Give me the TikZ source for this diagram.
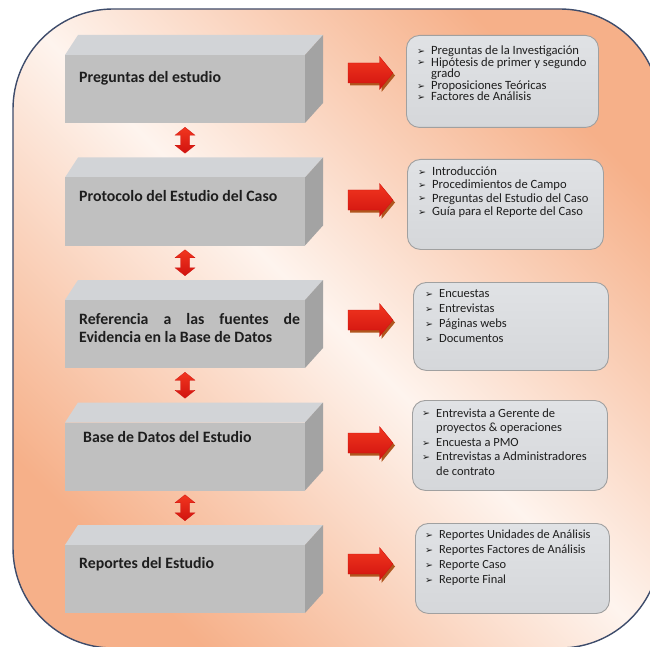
\documentclass[tikz,border=0pt]{standalone}
\usepackage{fontspec}
\setmainfont{Carlito}
\newfontfamily\dingfont{DejaVu Sans}
\usetikzlibrary{calc}

\definecolor{bgorange}{HTML}{F6B089}
\definecolor{bgpeach}{HTML}{FAD3BD}
\definecolor{bglight}{HTML}{FEF4EE}
\definecolor{framecol}{HTML}{3E4C6B}
\definecolor{facefront}{HTML}{C0C0C0}
\definecolor{facetop}{HTML}{D2D4D7}
\definecolor{faceside}{HTML}{A3A3A3}
\definecolor{notefill}{HTML}{D5D7DA}
\definecolor{notetop}{HTML}{E0E2E5}
\definecolor{noteline}{HTML}{A0A0A0}
\definecolor{arrowhi}{HTML}{F2361F}
\definecolor{arrowlo}{HTML}{D0130F}
\definecolor{arrowshadow}{HTML}{B0561E}
\definecolor{inkcol}{HTML}{1E1E1E}

% diagonal backdrop: orange towards two corners, pale along the other diagonal
\pgfdeclareverticalshading{backdrop}{100bp}{color(0bp)=(bgorange); color(25bp)=(bgorange);
  color(38bp)=(bgpeach); color(50bp)=(bglight); color(62bp)=(bgpeach);
  color(75bp)=(bgorange); color(100bp)=(bgorange)}

\tikzset{
  slabfront/.style={fill=facefront, minimum width=240pt, minimum height=68pt,
    inner sep=0pt, outer sep=0pt},
  slabtext/.style={font=\fontsize{15.8}{18.5}\selectfont\bfseries, text=inkcol, inner sep=0pt},
  notebox/.style={rounded corners=13pt, draw=noteline, line width=0.9pt,
    top color=notetop, bottom color=notefill, inner sep=0pt},
  notetext/.style={text=inkcol, inner sep=0pt, anchor=base west},
  arrowbody/.style={top color=arrowhi, bottom color=arrowlo, draw=arrowlo, line width=0.3pt},
  arrowshade/.style={fill=arrowshadow},
}

% a grey block drawn as a box with lid and right side; #1 name, #2 y of the lid's back edge
\newcommand\slab[2]{%
  \fill[facetop] (65,#2+20) -- (78,#2) -- (323,#2) -- (305,#2+20) -- cycle;
  \fill[faceside] (305,#2+20) -- (323,#2) -- (323,#2+68) -- (305,#2+88) -- cycle;
  \node[slabfront, anchor=north west] (#1) at (65,#2+20) {};
  \coordinate (#1lid) at (185,#2);
}
% block arrow pointing right, centred on coordinate #1
\newcommand\rightblock[1]{%
  \begin{scope}[shift={(#1)}]
    \fill[arrowshade] (-20.5,-7.5) -- (11,-7.5) -- (11,-14) -- (24.5,2.5) -- (11,19) -- (11,12.5) -- (-20.5,12.5) -- cycle;
    \path[arrowbody] (-22.5,-10) -- (9,-10) -- (9,-16.5) -- (22.5,0) -- (9,16.5) -- (9,10) -- (-22.5,10) -- cycle;
  \end{scope}}
% vertical double block arrow centred on coordinate #1
\newcommand\updownblock[1]{%
  \begin{scope}[shift={(#1)}]
    \path[arrowbody] (0,-13) -- (10,-5) -- (4.5,-5) -- (4.5,5) -- (10,5) -- (0,13)
      -- (-10,5) -- (-4.5,5) -- (-4.5,-5) -- (-10,-5) -- cycle;
  \end{scope}}
\newcommand\bul{\makebox[14pt][l]{\raisebox{0.2pt}{\dingfont\fontsize{9.5}{9.5}\selectfont ➢}}}
\newcommand\cont{\hspace*{14pt}}
% list set with a fixed line pitch (#2) at size #1
\newcommand\notelist[3]{\parbox[t]{200pt}{\fontsize{#1}{#2}\selectfont
  \lineskiplimit=-\maxdimen\raggedright #3}}

\begin{document}
\begin{tikzpicture}[x=1pt,y=-1pt]
\useasboundingbox (0,0) rectangle (650,647);

% backdrop panel
\begin{scope}
  \clip (0,0) rectangle (650,647);
  \shade[shading=backdrop, shading angle=-45, rounded corners=100pt] (13,9) rectangle (660,648);
  \draw[framecol, line width=1.4pt, rounded corners=100pt] (13,9) rectangle (660,648);
\end{scope}

% grey blocks
\slab{s1}{35}
\slab{s2}{157.5}
\slab{s3}{280}
\slab{s4}{402.5}
\slab{s5}{525}

\node[slabtext, anchor=base west] (t1) at (79,83) {Preguntas del estudio};
\node[slabtext, anchor=base west] (t2) at (79,201) {Protocolo del Estudio del Caso};
\node[slabtext, anchor=base west] (t3) at (79,324)
  {\parbox[t]{221pt}{\makebox[\linewidth][s]{Referencia a las fuentes de}\\Evidencia en la Base de Datos}};
\node[slabtext, anchor=base west] (t4) at (83,442) {Base de Datos del Estudio};
\node[slabtext, anchor=base west] (t5) at (79,568) {Reportes del Estudio};

% links between consecutive blocks
\coordinate (v1) at ($(s1.south)!0.5!(s2lid)$);
\coordinate (v2) at ($(s2.south)!0.5!(s3lid)$);
\coordinate (v3) at ($(s3.south)!0.5!(s4lid)$);
\coordinate (v4) at ($(s4.south)!0.5!(s5lid)$);
\updownblock{v1}
\updownblock{v2}
\updownblock{v3}
\updownblock{v4}

% detail boxes
\node[notebox, minimum width=192pt, minimum height=92pt, anchor=north west] (r1) at (406,35) {};
\node[notebox, minimum width=196pt, minimum height=90pt, anchor=north west] (r2) at (407,159) {};
\node[notebox, minimum width=195pt, minimum height=88pt, anchor=north west] (r3) at (413,282) {};
\node[notebox, minimum width=195pt, minimum height=90pt, anchor=north west] (r4) at (412,400) {};
\node[notebox, minimum width=194pt, minimum height=90pt, anchor=north west] (r5) at (415,523) {};

\node[notetext] (l1) at (417,54.5) {\notelist{12.6}{11.6}{%
  \bul Preguntas de la Investigación\\
  \bul Hipótesis de primer y segundo\\
  \cont grado\\
  \bul Proposiciones Teóricas\\
  \bul Factores de Análisis}};
\node[notetext] (l2) at (418,175.5) {\notelist{12.6}{13.3}{%
  \bul Introducción\\
  \bul Procedimientos de Campo\\
  \bul Preguntas del Estudio del Caso\\
  \bul Guía para el Reporte del Caso}};
\node[notetext] (l3) at (425,297.5) {\notelist{12.5}{15}{%
  \bul Encuestas\\
  \bul Entrevistas\\
  \bul Páginas webs\\
  \bul Documentos}};
\node[notetext] (l4) at (422,417) {\notelist{12.5}{14.6}{%
  \bul Entrevista a Gerente de\\
  \cont proyectos \& operaciones\\
  \bul Encuesta a PMO\\
  \bul Entrevistas a Administradores\\
  \cont de contrato}};
\node[notetext] (l5) at (425,538.5) {\notelist{12.4}{15}{%
  \bul Reportes Unidades de Análisis\\
  \bul Reportes Factores de Análisis\\
  \bul Reporte Caso\\
  \bul Reporte Final}};

% arrows from each block to its detail box
\coordinate (h1) at (370.5,73);
\coordinate (h2) at (370.5,200);
\coordinate (h3) at (370.5,320);
\coordinate (h4) at (370.5,443);
\coordinate (h5) at (370.5,564);
\rightblock{h1}
\rightblock{h2}
\rightblock{h3}
\rightblock{h4}
\rightblock{h5}
\end{tikzpicture}
\end{document}
